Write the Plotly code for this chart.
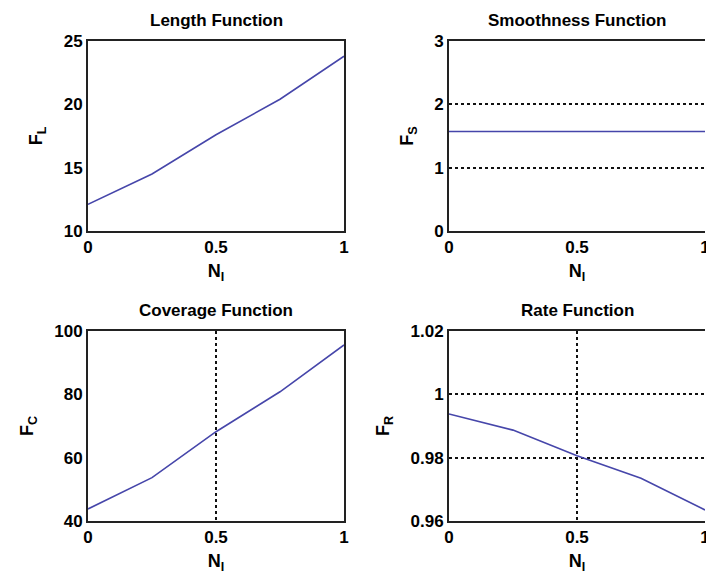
import plotly.graph_objects as go

# Data
n_i = [0, 0.25, 0.5, 0.75, 1.0]
length_fn = [12.1, 14.5, 17.6, 20.4, 23.8]
smooth_fn = [1.57, 1.57, 1.57, 1.57, 1.57]
coverage_fn = [43.8, 53.7, 68.2, 80.8, 95.6]
rate_fn = [0.9938, 0.9887, 0.9806, 0.9735, 0.9635]

titles = ["Length Function", "Smoothness Function", "Coverage Function", "Rate Function"]
ytitles = ["F<sub>L</sub>", "F<sub>S</sub>", "F<sub>C</sub>", "F<sub>R</sub>"]

W, H = 706, 581
LINE = "#4646aa"
FONT = "Liberation Sans, Arial, sans-serif"

# pixel boxes: (left, right, top, bottom)
boxes = [(88, 344, 41, 231), (449, 705, 41, 231), (88, 344, 331, 521), (449, 705, 331, 521)]
yranges = [[10, 25], [0, 3], [40, 100], [0.96, 1.02]]
yticks = [[10, 15, 20, 25], [0, 1, 2, 3], [40, 60, 80, 100], [0.96, 0.98, 1.0, 1.02]]
yticktext = [["10", "15", "20", "25"], ["0", "1", "2", "3"], ["40", "60", "80", "100"],
             ["0.96", "0.98", "1", "1.02"]]
xgrid = [False, False, True, True]
ygrid = [False, True, False, True]
series = [length_fn, smooth_fn, coverage_fn, rate_fn]

fig = go.Figure()
annotations = []
for i in range(4):
    l, r, t, b = boxes[i]
    xa = "x" if i == 0 else f"x{i+1}"
    ya = "y" if i == 0 else f"y{i+1}"
    fig.add_trace(go.Scatter(x=n_i, y=series[i], mode="lines",
                             line=dict(color=LINE, width=1.6),
                             xaxis=xa, yaxis=ya, showlegend=False))
    right_side = i in (1, 3)
    xkey = "xaxis" if i == 0 else f"xaxis{i+1}"
    ykey = "yaxis" if i == 0 else f"yaxis{i+1}"
    fig.layout[xkey] = dict(
        domain=[l / W, r / W], range=[0, 1], anchor=ya, automargin=False,
        tickvals=[0, 0.5, 1], ticktext=["0", "0.5", "1"],
        showline=True, linecolor="#222", linewidth=2, mirror=True,
        showgrid=xgrid[i], gridcolor="#111", griddash="dot", gridwidth=1.5,
        zeroline=False, ticks="", ticklabeloverflow="allow",
        tickfont=dict(family=FONT, size=17, color="black", weight="bold"),
        title=dict(text="N<sub>I</sub>", standoff=8,
                   font=dict(family=FONT, size=18, color="black", weight="bold")),
    )
    fig.layout[ykey] = dict(
        domain=[1 - b / H, 1 - t / H], range=yranges[i], anchor=xa, automargin=False,
        tickvals=yticks[i], ticktext=yticktext[i],
        showline=True, linecolor="#222", linewidth=2, mirror=not right_side,
        showgrid=ygrid[i], gridcolor="#111", griddash="dot", gridwidth=1.5,
        zeroline=False, ticks="",
        tickfont=dict(family=FONT, size=17, color="black", weight="bold"),
        title=dict(text=ytitles[i], standoff=16,
                   font=dict(family=FONT, size=18, color="black", weight="bold")),
    )
    annotations.append(dict(text=titles[i], x=(l + r) / 2 / W, y=1 - (t - 21) / H,
                            xref="paper", yref="paper", showarrow=False,
                            xanchor="center", yanchor="middle",
                            font=dict(family=FONT, size=17, color="black", weight="bold")))

fig.update_layout(width=W, height=H, margin=dict(l=0, r=0, t=0, b=0, autoexpand=False),
                  paper_bgcolor="white", plot_bgcolor="white",
                  annotations=annotations)
fig.write_html("out.html")
